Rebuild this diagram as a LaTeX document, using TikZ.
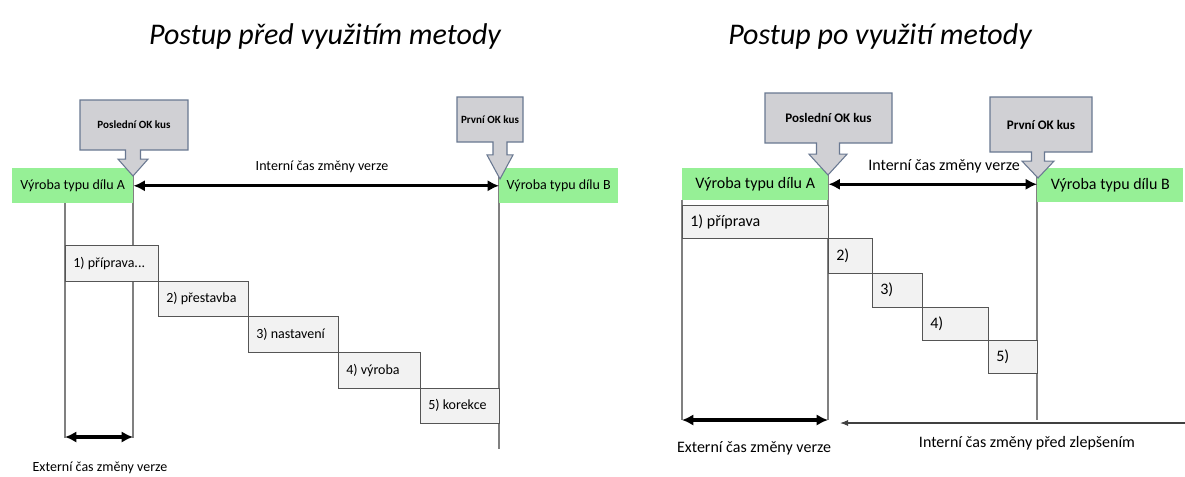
\documentclass[tikz,border=0pt]{standalone}
\usepackage{fontspec}
\setmainfont{Carlito}
\usetikzlibrary{arrows.meta,calc,positioning}

\definecolor{prodgreen}{RGB}{150,240,150}
\definecolor{okfill}{RGB}{208,208,212}
\definecolor{okedge}{RGB}{105,120,145}
\definecolor{stepgray}{RGB}{242,242,242}
\definecolor{stepedge}{RGB}{85,85,85}
\definecolor{vgray}{RGB}{128,128,128}

% callout: box x0,y0,x1,y1, arrow axis, arrow tip, head and shaft half widths
\newcommand{\okshape}[8]{%
  \pgfmathsetmacro{\neck}{#4+0.35*(#6-#4)}
  \draw[okshape] (#1,#2) -- (#3,#2) -- (#3,#4) -- ({#5+#8},#4)
    -- ({#5+#8},\neck) -- ({#5+#7},\neck) -- (#5,#6) -- ({#5-#7},\neck)
    -- ({#5-#8},\neck) -- ({#5-#8},#4) -- (#1,#4) -- cycle;}

% one step of the changeover
\newcommand{\stepbox}[6]{%
  \draw[stepline] (#2,#3) rectangle (#4,#5);
  \node[steptext] (#1) at (#2,{(#3+#5)/2}) {#6};}

\begin{document}
\begin{tikzpicture}[x=.75pt,y=-.75pt,font=\fontsize{10.5}{12.5}\selectfont,
  title/.style={font=\fontsize{22.5}{27}\selectfont\itshape},
  prod/.style={fill=prodgreen,anchor=north west,inner sep=0pt},
  vline/.style={draw=vgray,line width=.9pt},
  stepline/.style={draw=stepedge,fill=stepgray,line width=.7pt},
  steptext/.style={anchor=west,inner xsep=6pt,inner ysep=0pt},
  okshape/.style={fill=okfill,draw=okedge,line width=.8pt,line join=miter},
  okL/.style={font=\fontsize{8.3}{10}\selectfont\bfseries},
  okR/.style={font=\fontsize{9.8}{11}\selectfont\bfseries},
  span/.style={{Latex[length=8.5pt,width=8.5pt]}-{Latex[length=8.5pt,width=8.5pt]},line width=2.3pt},
  thinarr/.style={-{Latex[length=6pt,width=4.5pt]},draw=black!75,line width=.8pt}]
\useasboundingbox (0,0) rectangle (1185,476);

\node[title] (titleL) at (325,36) {Postup před využitím metody};
\node[title] (titleR) at (880,36) {Postup po využití metody};

%% before
\begin{scope}
\draw[vline] (65,203) -- (65,438);
\draw[vline] (133,168) -- (133,438);
\draw[vline] (499,168) -- (499,449);

\node[prod,minimum width=90.75pt,minimum height=26.25pt] (prodAL) at (12,168) {Výroba typu dílu A};
\node[prod,minimum width=89.25pt,minimum height=26.25pt] (prodBL) at (499,168) {Výroba typu dílu B};

\stepbox{s1L}{65}{245}{158}{281}{1) příprava...}
\stepbox{s2L}{158}{281}{248}{316}{2) přestavba}
\stepbox{s3L}{248}{316}{338}{352}{3) nastavení}
\stepbox{s4L}{338}{352}{420}{388}{4) výroba}
\stepbox{s5L}{420}{388}{499}{423}{5) korekce}

\okshape{80}{100}{188}{150}{133}{176}{15}{7.5}
\node[okL] (lastL) at (134,125) {Poslední OK kus};
\okshape{457}{97}{523}{142}{500}{179}{13}{7}
\node[okL] (firstL) at (490,119.5) {První OK kus};

\draw[span] (prodAL.east) -- (prodAL.east -| prodBL.west);
\node (intL) at (322,167) {Interní čas změny verze};

\coordinate (extL0) at (65,437);
\coordinate (extL1) at (133,437);
\draw[span] (extL0) -- (extL1);
\node (extL) at (100,468) {Externí čas změny verze};
\end{scope}

%% after
\begin{scope}[font=\fontsize{12}{14}\selectfont]
\draw[vline] (682,200) -- (682,420);
\draw[vline] (828,168) -- (828,420);
\draw[vline] (1037,168) -- (1037,420);

\node[prod,minimum width=109.5pt,minimum height=24pt] (prodAR) at (682,168) {Výroba typu dílu A};
\node[prod,minimum width=109.5pt,minimum height=25.5pt] (prodBR) at (1037,168) {Výroba typu dílu B};

\stepbox{s1R}{682}{205}{828}{238}{1) příprava}
\stepbox{s2R}{828}{238}{872}{273}{2)}
\stepbox{s3R}{872}{273}{922}{307}{3)}
\stepbox{s4R}{922}{307}{988}{340}{4)}
\stepbox{s5R}{988}{340}{1037}{373}{5)}

\okshape{765}{93}{892}{143}{828}{175}{19}{11.5}
\node[okR] (lastR) at (828.5,118) {Poslední OK kus};
\okshape{990}{97}{1092}{152}{1038}{178}{16}{6.5}
\node[okR] (firstR) at (1041,124.5) {První OK kus};

\draw[span] (prodAR.east) -- (prodAR.east -| prodBR.west);
\node (intR) at (944,166) {Interní čas změny verze};

\coordinate (extR0) at (682,420);
\coordinate (extR1) at (828,420);
\draw[span] (extR0) -- (extR1);
\node (extR) at (754,448) {Externí čas změny verze};

\coordinate (prevR0) at (1185,423);
\coordinate (prevR1) at (840,423);
\draw[thinarr] (prevR0) -- (prevR1);
\node (prevR) at (1027,443) {Interní čas změny před zlepšením};
\end{scope}
\end{tikzpicture}
\end{document}
